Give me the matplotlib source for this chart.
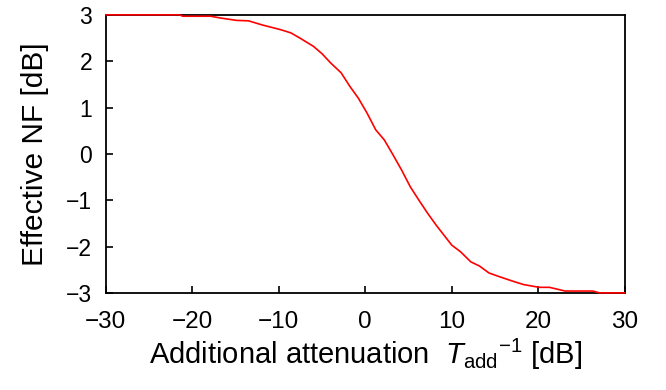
import numpy as np
import matplotlib
matplotlib.use("Agg")
import matplotlib.pyplot as plt

plt.rcParams['font.family'] = ['Liberation Sans', 'DejaVu Sans']
plt.rcParams['mathtext.fontset'] = 'custom'
plt.rcParams['mathtext.rm'] = 'Liberation Sans'
plt.rcParams['mathtext.it'] = 'Liberation Sans:italic'

# values
atten_db = [-30, -21.5, -21.1, -17.9, -16.7, -14.9, -13.5, -11.9, -9.8, -8.6, -7.4,
            -6.0, -5.0, -4.0, -2.8, -1.8, -0.8, 0.2, 1.2, 2.2, 3.2, 4.2, 5.2, 6.2,
            7.2, 8.2, 10.0, 11.0, 12.2, 13.2, 14.3, 15.5, 17.1, 18.3, 20.1, 21.3,
            23.1, 26.3, 27.1, 30]
nf_db = [3.0, 3.0, 2.97, 2.97, 2.93, 2.88, 2.87, 2.78, 2.68, 2.61, 2.48,
         2.32, 2.16, 1.96, 1.75, 1.46, 1.20, 0.88, 0.52, 0.30, -0.02, -0.35, -0.71, -1.0,
         -1.28, -1.54, -1.97, -2.11, -2.33, -2.42, -2.57, -2.65, -2.75, -2.82, -2.88, -2.88,
         -2.96, -2.96, -3.0, -3.0]

fig = plt.figure(figsize=(6.66, 3.9), dpi=100)
ax = fig.add_axes([0.159, 0.249, 0.779, 0.713])

ax.plot(atten_db, nf_db, color="#ff0000", linewidth=1.2, clip_on=False, zorder=3)

ax.set_xlim(-30, 30)
ax.set_ylim(-3, 3)
ax.set_xticks(np.arange(-30, 31, 10))
ax.set_yticks(np.arange(-3, 4, 1))
ax.tick_params(direction="in", length=5, width=1.2, top=False, right=False)
ax.tick_params(axis="x", labelsize=17.5, pad=13)
ax.tick_params(axis="y", labelsize=16.5, pad=10)
for s in ax.spines.values():
    s.set_linewidth(1.3)

ax.set_xlabel(r"Additional attenuation  $T_{\mathrm{add}}{}^{-1}$ [dB]", fontsize=21, labelpad=3)
ax.set_ylabel("Effective NF [dB]", fontsize=21.5, labelpad=12)

fig.savefig("out.png", dpi=100)
